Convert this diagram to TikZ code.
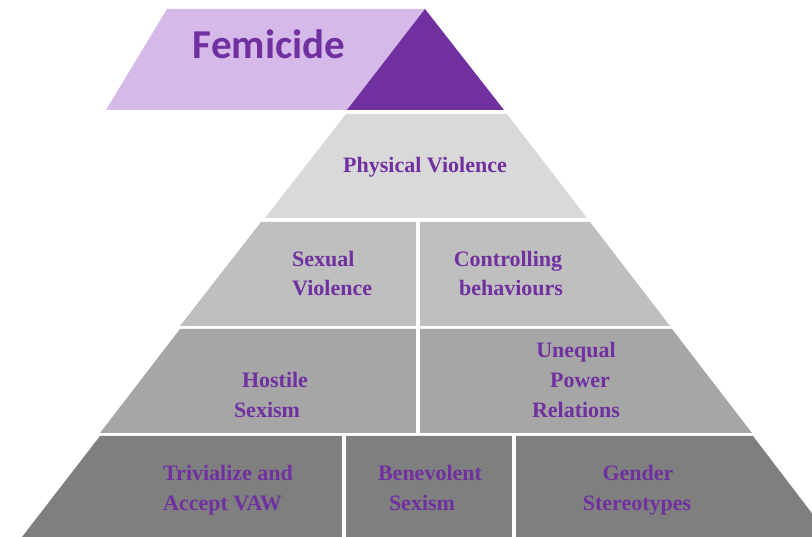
\documentclass[tikz,border=0pt]{standalone}
\usepackage{fontspec}
\setmainfont{Liberation Serif}
\newfontfamily\califont{Carlito}
\definecolor{dpurple}{HTML}{7030A0}
\definecolor{lpurple}{HTML}{D4B9E9}
\definecolor{tierA}{HTML}{D9D9D9}
\definecolor{tierB}{HTML}{BFBFBF}
\definecolor{tierC}{HTML}{A6A6A6}
\definecolor{tierD}{HTML}{7F7F7F}
\begin{document}
\begin{tikzpicture}[x=1pt,y=-1pt,
  lbl/.style={text=dpurple, font=\fontsize{22}{30}\selectfont\bfseries, inner sep=0pt, anchor=base},
  lblw/.style={lbl, anchor=base west},
  sepline/.style={white, line width=3.5pt}]
\useasboundingbox (0,0) rectangle (812,537);
\clip (0,0) rectangle (812,537);
% top
\fill[lpurple] (106,110) -- (167,9) -- (425,9) -- (380,110) -- cycle;
\fill[dpurple] (425,9) -- (504,110) -- (347,110) -- cycle;
\node[text=dpurple, font=\califont\fontsize{41}{41}\selectfont\bfseries, anchor=base, inner sep=0pt] (femicide) at (269,59) {Femicide};
% tiers
\fill[tierA] (346,114) -- (507,114) -- (587,218) -- (265,218) -- cycle;
\fill[tierB] (261,222) -- (590,222) -- (670,326) -- (180,326) -- cycle;
\fill[tierC] (180,329) -- (672,329) -- (752,433) -- (100,433) -- cycle;
\fill[tierD] (100,436) -- (753,436) -- (830,537) -- (22,537) -- cycle;
% separators
\draw[sepline] (418,220) -- (418,328);
\draw[sepline] (418,327) -- (418,435);
\draw[sepline] (344,434) -- (344,540);
\draw[sepline] (514,434) -- (514,540);
% labels
\node[lbl] (phys) at (425,173) {Physical Violence};
\node[lblw] (sex1) at (292,267) {Sexual};
\node[lblw] (sex2) at (292,296) {Violence};
\node[lbl] (ctrl1) at (508,267) {Controlling};
\node[lbl] (ctrl2) at (511,296) {behaviours};
\node[lbl] (host1) at (275,388) {Hostile};
\node[lbl] (host2) at (267,418) {Sexism};
\node[lbl] (uneq1) at (576,358) {Unequal};
\node[lbl] (uneq2) at (580,388) {Power};
\node[lbl] (uneq3) at (576,418) {Relations};
\node[lblw] (triv1) at (163,481) {Trivialize and};
\node[lblw] (triv2) at (163,511) {Accept VAW};
\node[lbl] (bene1) at (430,481) {Benevolent};
\node[lbl] (bene2) at (422,511) {Sexism};
\node[lbl] (gend1) at (638,481) {Gender};
\node[lbl] (gend2) at (637,511) {Stereotypes};
\end{tikzpicture}
\end{document}
